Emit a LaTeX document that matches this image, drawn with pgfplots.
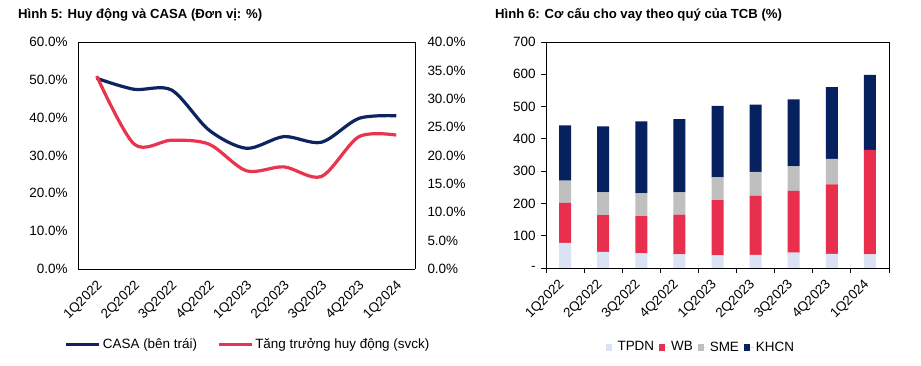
\documentclass[border=0pt]{standalone}
\usepackage{fontspec}
\setmainfont{Liberation Sans}
\usepackage{pgfplots}
\pgfplotsset{compat=1.18}
\definecolor{navyl}{HTML}{0E2460}
\definecolor{redl}{HTML}{E8344F}
\definecolor{cTPDN}{HTML}{DAE3F3}
\definecolor{cWB}{HTML}{E8304E}
\definecolor{cSME}{HTML}{BFBFBF}
\definecolor{cKHCN}{HTML}{07205E}
\newcommand\fs{\fontsize{13.5}{16}\selectfont}
\begin{document}
\begin{tikzpicture}
\path[fill=white] (0,0) rectangle (921bp,366bp);
\node[anchor=base west,font=\fontsize{13.2}{16}\selectfont\bfseries,inner sep=0] at (18bp,347.5bp) {Hình 5: Huy động và CASA (Đơn vị: \%)};
\node[anchor=base west,font=\fontsize{13.2}{16}\selectfont\bfseries,inner sep=0] at (495bp,347.5bp) {Hình 6: Cơ cấu cho vay theo quý của TCB (\%)};
% ---------- left chart, left axis
\begin{axis}[
  at={(78bp,97bp)}, anchor=south west,
  width=337bp, height=227bp, scale only axis,
  xmin=-0.5, xmax=8.5, ymin=0, ymax=60,
  xtick={0,...,8},
  xticklabels={1Q2022,2Q2022,3Q2022,4Q2022,1Q2023,2Q2023,3Q2023,4Q2023,1Q2024},
  xticklabel style={font=\fs,xshift=6bp,yshift=-12bp,rotate=45,anchor=east},
  ytick={0,10,...,60},
  yticklabels={0.0\%,10.0\%,20.0\%,30.0\%,40.0\%,50.0\%,60.0\%},
  yticklabel style={font=\fs,xshift=-7bp},
  major tick length=0pt,
  axis y line*=left,
  axis x line*=bottom,
  axis line style={black,line width=0.8bp},
]
\addplot[navyl,line width=3.2bp,smooth,tension=0.5] coordinates {
(0,50.4) (1,47.5) (2,47.3) (3,36.7) (4,31.9) (5,35.0) (6,33.5) (7,39.8) (8,40.5)};
\end{axis}
% ---------- left chart, right axis
\begin{axis}[
  at={(78bp,97bp)}, anchor=south west,
  width=337bp, height=227bp, scale only axis,
  xmin=-0.5, xmax=8.5, ymin=0, ymax=40,
  xtick=\empty,
  ytick={0,5,...,40},
  yticklabels={0.0\%,5.0\%,10.0\%,15.0\%,20.0\%,25.0\%,30.0\%,35.0\%,40.0\%},
  yticklabel style={font=\fs,xshift=9bp},
  major tick length=0pt,
  axis y line*=right,
  axis x line*=top,
  axis line style={black,line width=0.8bp},
  legend style={draw=none,fill=none,at={(axis description cs:-0.04,-0.332)},anchor=west,
    font=\fs,legend columns=2,inner sep=0pt,
    /tikz/every even column/.append style={column sep=18bp}},
  legend image code/.code={\draw[#1,line width=3.2bp] (0bp,0bp) -- (33bp,0bp);},
]
\addlegendimage{navyl}
\addlegendentry{CASA (bên trái)}
\addplot[redl,line width=3.2bp,smooth,tension=0.5] coordinates {
(0,34.0) (1,22.0) (2,22.7) (3,22.0) (4,17.3) (5,18.0) (6,16.3) (7,23.3) (8,23.6)};
\addlegendentry{Tăng trưởng huy động (svck)}
\end{axis}
% ---------- right chart
\begin{axis}[
  at={(546bp,98bp)}, anchor=south west,
  width=343bp, height=226bp, scale only axis,
  ybar stacked, bar width=12bp,
  xmin=-0.5, xmax=8.5, ymin=0, ymax=700,
  xtick={0,...,8},
  xticklabels={1Q2022,2Q2022,3Q2022,4Q2022,1Q2023,2Q2023,3Q2023,4Q2023,1Q2024},
  xticklabel style={font=\fs,xshift=-0.5bp,yshift=-7bp,rotate=45,anchor=east},
  minor xtick={-0.5,0.5,...,8.5},
  ytick={0,100,...,700},
  yticklabels={-,100,200,300,400,500,600,700},
  yticklabel style={font=\fs,xshift=-2bp},
  major x tick style={draw=none},
  tick align=outside,
  xtick pos=bottom, ytick pos=left,
  major tick length=5bp, minor tick length=5bp,
  tick style={black,line width=0.8bp},
  axis line style={black,line width=0.8bp},
  legend style={draw=none,fill=none,at={(axis description cs:0.173,-0.35)},anchor=west,
    font=\fs,legend columns=4,inner sep=0pt,
    /tikz/every even column/.append style={column sep=3bp}},
  legend image code/.code={\fill[#1] (0bp,-3.5bp) rectangle (6bp,3.5bp);\path (0bp,0bp) -- (10bp,0bp);},
]
\addplot[fill=cTPDN,draw=none] coordinates {(0,78) (1,50) (2,45) (3,42) (4,39) (5,41) (6,48) (7,44) (8,42)};
\addlegendentry{TPDN}
\addplot[fill=cWB,draw=none] coordinates {(0,124) (1,114) (2,116) (3,123) (4,171) (5,183) (6,191) (7,215) (8,324)};
\addlegendentry{WB}
\addplot[fill=cSME,draw=none] coordinates {(0,69) (1,70) (2,70) (3,69) (4,71) (5,74) (6,76) (7,79) (8,0)};
\addlegendentry{SME}
\addplot[fill=cKHCN,draw=none] coordinates {(0,171) (1,205) (2,223) (3,227) (4,221) (5,208) (6,207) (7,222) (8,232)};
\addlegendentry{KHCN}
\end{axis}
\end{tikzpicture}
\end{document}
